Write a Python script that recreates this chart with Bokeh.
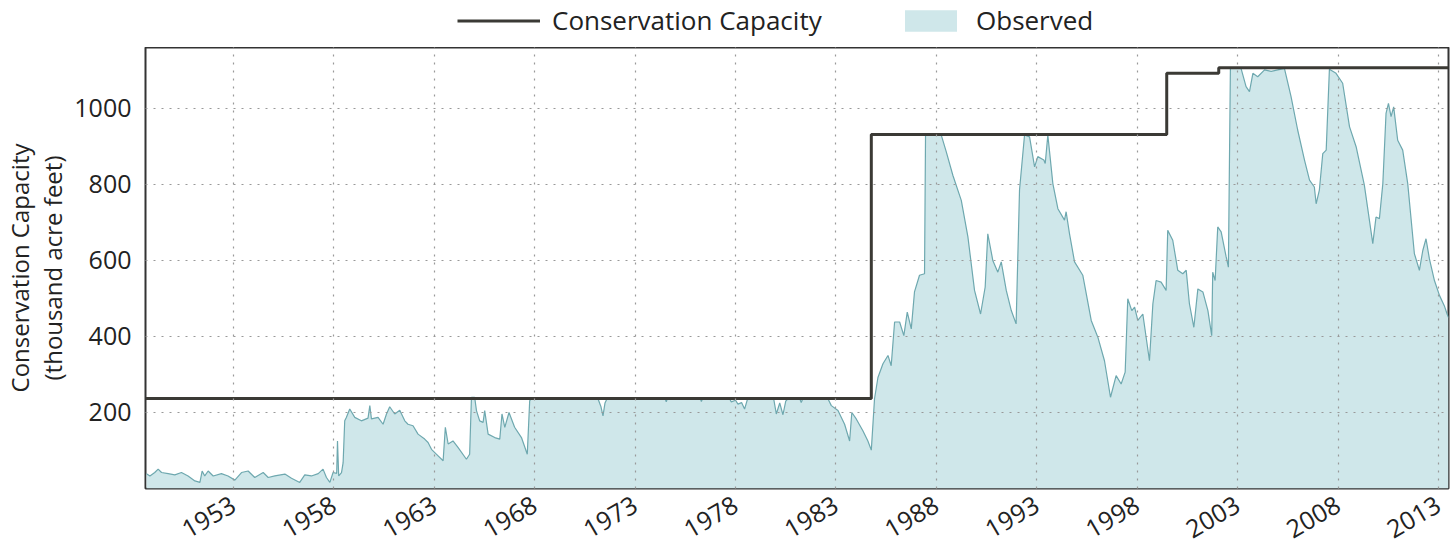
import math
from bokeh.plotting import figure
from bokeh.layouts import column
from bokeh.models import Range1d, FixedTicker, Legend, LegendItem
from bokeh.embed import file_html
from bokeh.resources import INLINE

# ---- data ----
obs_years = [
    1948.67, 1948.84, 1949.08, 1949.25, 1949.42, 1949.75, 1950.08, 1950.41, 1950.74, 1951.08,
    1951.33, 1951.44, 1951.57, 1951.74, 1951.99, 1952.40, 1952.73, 1953.07, 1953.40, 1953.73,
    1954.06, 1954.48, 1954.73, 1955.06, 1955.56, 1955.89, 1956.30, 1956.55, 1956.88, 1957.22,
    1957.46, 1957.63, 1957.80, 1957.96, 1958.14, 1958.18, 1958.24, 1958.38, 1958.46, 1958.54,
    1958.62, 1958.79, 1959.04, 1959.37, 1959.70, 1959.79, 1959.87, 1960.20, 1960.45, 1960.62,
    1960.78, 1961.03, 1961.28, 1961.53, 1961.69, 1961.94, 1962.19, 1962.52, 1962.69, 1962.86,
    1963.19, 1963.44, 1963.55, 1963.69, 1963.93, 1964.18, 1964.60, 1964.76, 1964.85, 1965.01,
    1965.10, 1965.26, 1965.43, 1965.51, 1965.68, 1966.01, 1966.26, 1966.37, 1966.51, 1966.72,
    1967.00, 1967.34, 1967.63, 1967.75, 1967.85, 1971.15, 1971.30, 1971.40, 1971.50, 1971.60,
    1974.50, 1974.55, 1974.60, 1976.25, 1976.30, 1976.35, 1977.70, 1977.79, 1978.00, 1978.12,
    1978.30, 1978.45, 1978.60, 1979.90, 1980.03, 1980.20, 1980.36, 1980.50, 1980.61, 1981.20,
    1981.27, 1981.35, 1982.60, 1982.77, 1983.10, 1983.43, 1983.68, 1983.79, 1984.01, 1984.34,
    1984.59, 1984.76, 1984.92, 1985.09, 1985.34, 1985.59, 1985.75, 1985.92, 1986.17, 1986.38,
    1986.55, 1986.75, 1986.91, 1987.16, 1987.41, 1987.46, 1988.24, 1988.49, 1988.82, 1989.24,
    1989.57, 1989.90, 1990.20, 1990.43, 1990.56, 1990.81, 1991.06, 1991.23, 1991.48, 1991.73,
    1991.97, 1992.14, 1992.39, 1992.64, 1992.89, 1993.05, 1993.35, 1993.42, 1993.55, 1993.80,
    1994.05, 1994.38, 1994.46, 1994.63, 1994.88, 1995.29, 1995.71, 1996.04, 1996.37, 1996.67,
    1996.95, 1997.20, 1997.40, 1997.53, 1997.73, 1997.87, 1998.03, 1998.28, 1998.61, 1998.78,
    1998.94, 1999.19, 1999.44, 1999.52, 1999.77, 2000.02, 2000.27, 2000.44, 2000.60, 2000.82,
    2001.02, 2001.27, 2001.52, 2001.71, 2001.76, 2001.88, 2002.01, 2002.18, 2002.43, 2002.54,
    2002.64, 2003.17, 2003.42, 2003.59, 2003.76, 2004.00, 2004.34, 2004.67, 2005.00, 2005.33,
    2005.66, 2005.99, 2006.33, 2006.58, 2006.82, 2006.91, 2007.07, 2007.24, 2007.41, 2007.57,
    2007.90, 2008.23, 2008.57, 2008.90, 2009.31, 2009.73, 2009.89, 2010.06, 2010.23, 2010.39,
    2010.51, 2010.64, 2010.77, 2010.97, 2011.22, 2011.47, 2011.80, 2012.05, 2012.22, 2012.38,
    2012.55, 2012.80, 2013.05, 2013.29, 2013.43, 2013.50,
]
obs_values = [
    39, 33, 42, 51, 42, 39, 36, 42, 33, 20,
    16, 46, 33, 46, 33, 39, 33, 22, 42, 46,
    29, 42, 29, 33, 38, 27, 16, 36, 33, 39,
    51, 29, 16, 42, 40, 125, 33, 42, 68, 178,
    187, 209, 187, 178, 185, 218, 183, 187, 169, 196,
    215, 196, 206, 178, 169, 165, 143, 130, 121, 103,
    86, 73, 161, 117, 125, 108, 77, 90, 240, 240,
    205, 178, 174, 205, 143, 134, 130, 196, 161, 200,
    161, 134, 90, 231, 236, 236, 215, 191, 225, 236,
    236, 228, 236, 236, 229, 236, 236, 228, 232, 222,
    226, 209, 236, 236, 196, 225, 194, 230, 236, 236,
    226, 236, 236, 218, 205, 169, 125, 200, 183, 152,
    125, 101, 236, 292, 328, 350, 323, 438, 438, 402,
    464, 420, 517, 561, 565, 930, 930, 886, 824, 758,
    662, 521, 459, 530, 670, 600, 569, 596, 521, 468,
    433, 785, 930, 925, 846, 873, 864, 855, 930, 802,
    736, 706, 728, 670, 596, 561, 442, 398, 336, 240,
    297, 275, 306, 499, 468, 477, 442, 459, 336, 486,
    547, 543, 521, 679, 653, 574, 565, 574, 486, 424,
    525, 517, 468, 402, 569, 547, 688, 675, 609, 582,
    1105, 1105, 1057, 1044, 1092, 1083, 1101, 1097, 1101, 1105,
    1031, 943, 864, 811, 793, 749, 785, 881, 890, 1103,
    1092, 1066, 952, 899, 798, 644, 714, 710, 802, 987,
    1013, 978, 1004, 916, 890, 802, 618, 574, 626, 657,
    604, 547, 508, 481, 459, 450,
]

cap_years = [1948.62, 1984.76, 1999.47, 2002.06, 2013.5]
cap_values = [237, 931, 1092, 1107, 1107]

x_tick_years = [1953, 1958, 1963, 1968, 1973, 1978, 1983, 1988, 1993, 1998, 2003, 2008, 2013]
y_ticks = [200, 400, 600, 800, 1000]

FONT = "Open Sans"
TEXT = "#222222"
FILL = "#cfe7ea"
EDGE = "#6ea8af"
CAPC = "#3b3a35"

# ---- main chart ----
p = figure(frame_width=1303, frame_height=441, output_backend="svg", toolbar_location=None,
           x_range=Range1d(1948.62, 2013.5), y_range=Range1d(0, 1160),
           min_border_left=136, min_border_right=3, min_border_top=0, min_border_bottom=54)

p.varea(x=obs_years, y1=0, y2=obs_values, fill_color=FILL)
p.line(obs_years, obs_values, line_color=EDGE, line_width=1.2)
p.step(cap_years, cap_values, mode="after", line_color=CAPC, line_width=3)

p.outline_line_color = "#333333"
p.outline_line_width = 2

for ax in (p.xaxis[0], p.yaxis[0]):
    ax.axis_line_color = None
    ax.major_tick_line_color = None
    ax.minor_tick_line_color = None
    ax.major_label_text_font = FONT
    ax.major_label_text_font_size = "25px"
    ax.major_label_text_color = TEXT

p.xaxis.ticker = FixedTicker(ticks=x_tick_years)
p.xaxis.major_label_overrides = {y: str(y) for y in x_tick_years}
p.xaxis.major_label_orientation = math.pi / 6
p.xaxis.major_label_standoff = 8

p.yaxis.ticker = FixedTicker(ticks=y_ticks)
p.yaxis.major_label_standoff = 8
p.yaxis.axis_label = "Conservation Capacity\n(thousand acre feet)"
p.yaxis.axis_label_text_font = FONT
p.yaxis.axis_label_text_font_size = "24px"
p.yaxis.axis_label_text_font_style = "normal"
p.yaxis.axis_label_text_color = TEXT
p.yaxis.axis_label_text_line_height = 1.0
p.yaxis.axis_label_standoff = 2

for g in (p.xgrid[0], p.ygrid[0]):
    g.grid_line_color = "#999999"
    g.grid_line_dash = "2 6"
    g.grid_line_width = 1.2
    g.level = "overlay"
p.xgrid.ticker = FixedTicker(ticks=x_tick_years)
p.ygrid.ticker = FixedTicker(ticks=y_ticks)

# ---- legend strip above the chart (key renderers sit outside its visible range) ----
lg = figure(width=1442, height=47, output_backend="svg", toolbar_location=None,
            x_range=Range1d(0, 1), y_range=Range1d(0, 1),
            x_axis_location=None, y_axis_location=None, min_border=0)
lg.grid.visible = False
lg.outline_line_color = None
cap_key = lg.line(x=[5, 6], y=[5, 6], line_color=CAPC, line_width=3)
obs_key = lg.varea(x=[5, 6], y1=[5, 5], y2=[6, 6], fill_color=FILL)

common = dict(orientation="horizontal", padding=0, margin=0, border_line_color=None,
              background_fill_alpha=0, label_text_font=FONT, label_text_font_size="26px",
              label_text_color=TEXT, glyph_height=27)
lg.add_layout(Legend(items=[LegendItem(label="Conservation Capacity", renderers=[cap_key])],
                     location=(312, 9), glyph_width=83, label_standoff=12, **common))
lg.add_layout(Legend(items=[LegendItem(label="Observed", renderers=[obs_key])],
                     location=(753, 9), glyph_width=65, label_standoff=13, **common))

open("out.html", "w").write(file_html(column(lg, p), INLINE))
